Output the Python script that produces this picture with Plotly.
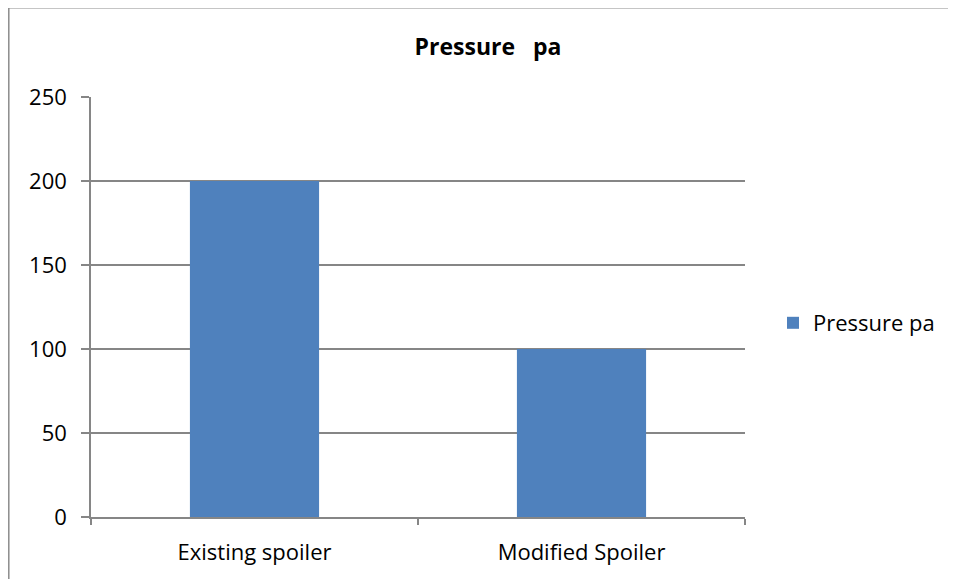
import plotly.graph_objects as go

categories = ["Existing spoiler", "Modified Spoiler"]
pressure_values = [200, 100]
series_name = "Pressure pa"
title_text = "Pressure\u00a0\u00a0\u00a0pa"
y_ticks = [0, 50, 100, 150, 200, 250]

# page has an 8px body margin, so the figure starts at (8, 8) in the window
OX, OY = 8, 8
W, H = 956 - OX, 579 - OY
L, R, T, B = 91, 745, 97, 517  # plot area in window pixels
pw, ph = R - L, B - T

def px(x):
    return (x - L) / pw

def py(y):
    return (B - y) / ph

FONT = "Open Sans"
FS = 22
GRID = "#868686"

fig = go.Figure()
fig.add_trace(go.Bar(
    x=categories, y=pressure_values, name=series_name,
    marker=dict(color="#4F81BD", line=dict(width=0)),
    showlegend=True,
))

fig.update_layout(
    width=W, height=H,
    margin=dict(l=L - OX, r=956 - R, t=T - OY, b=579 - B, pad=0),
    paper_bgcolor="white", plot_bgcolor="white",
    bargap=0.605,
    font=dict(family=FONT, size=FS, color="black"),
    title=dict(text="<b>" + title_text + "</b>", x=px(488), xref="paper",
               xanchor="center", y=1 - (47 - OY) / H, yanchor="middle",
               font=dict(family=FONT, size=23, color="black")),
    legend=dict(x=px(773), y=py(323), xanchor="left", yanchor="middle",
                font=dict(family=FONT, size=FS), bgcolor="rgba(0,0,0,0)",
                itemwidth=30, tracegroupgap=0),
    xaxis=dict(
        showline=True, linecolor=GRID, linewidth=1.5,
        ticks="outside", ticklen=6, tickcolor=GRID, tickwidth=1.5,
        tickson="boundaries", showgrid=False, ticklabelstandoff=15,
        tickfont=dict(family=FONT, size=FS),
    ),
    yaxis=dict(
        range=[0, 250], tickvals=y_ticks, showline=True, linecolor=GRID,
        linewidth=1.5, ticks="outside", ticklen=8, tickcolor=GRID, tickwidth=1.5,
        showgrid=True, gridcolor=GRID, gridwidth=1.5, zeroline=False,
        ticklabelstandoff=10, tickfont=dict(family=FONT, size=FS),
    ),
)

# outer chart border (cut off at right and bottom)
fig.add_shape(type="path", xref="paper", yref="paper",
              path=f"M {px(8.8)} {py(620)} L {px(8.8)} {py(7.8)} L {px(1000)} {py(7.8)}",
              line=dict(color="#8C8C8C", width=1.5), layer="above")

fig.write_html("out.html")
